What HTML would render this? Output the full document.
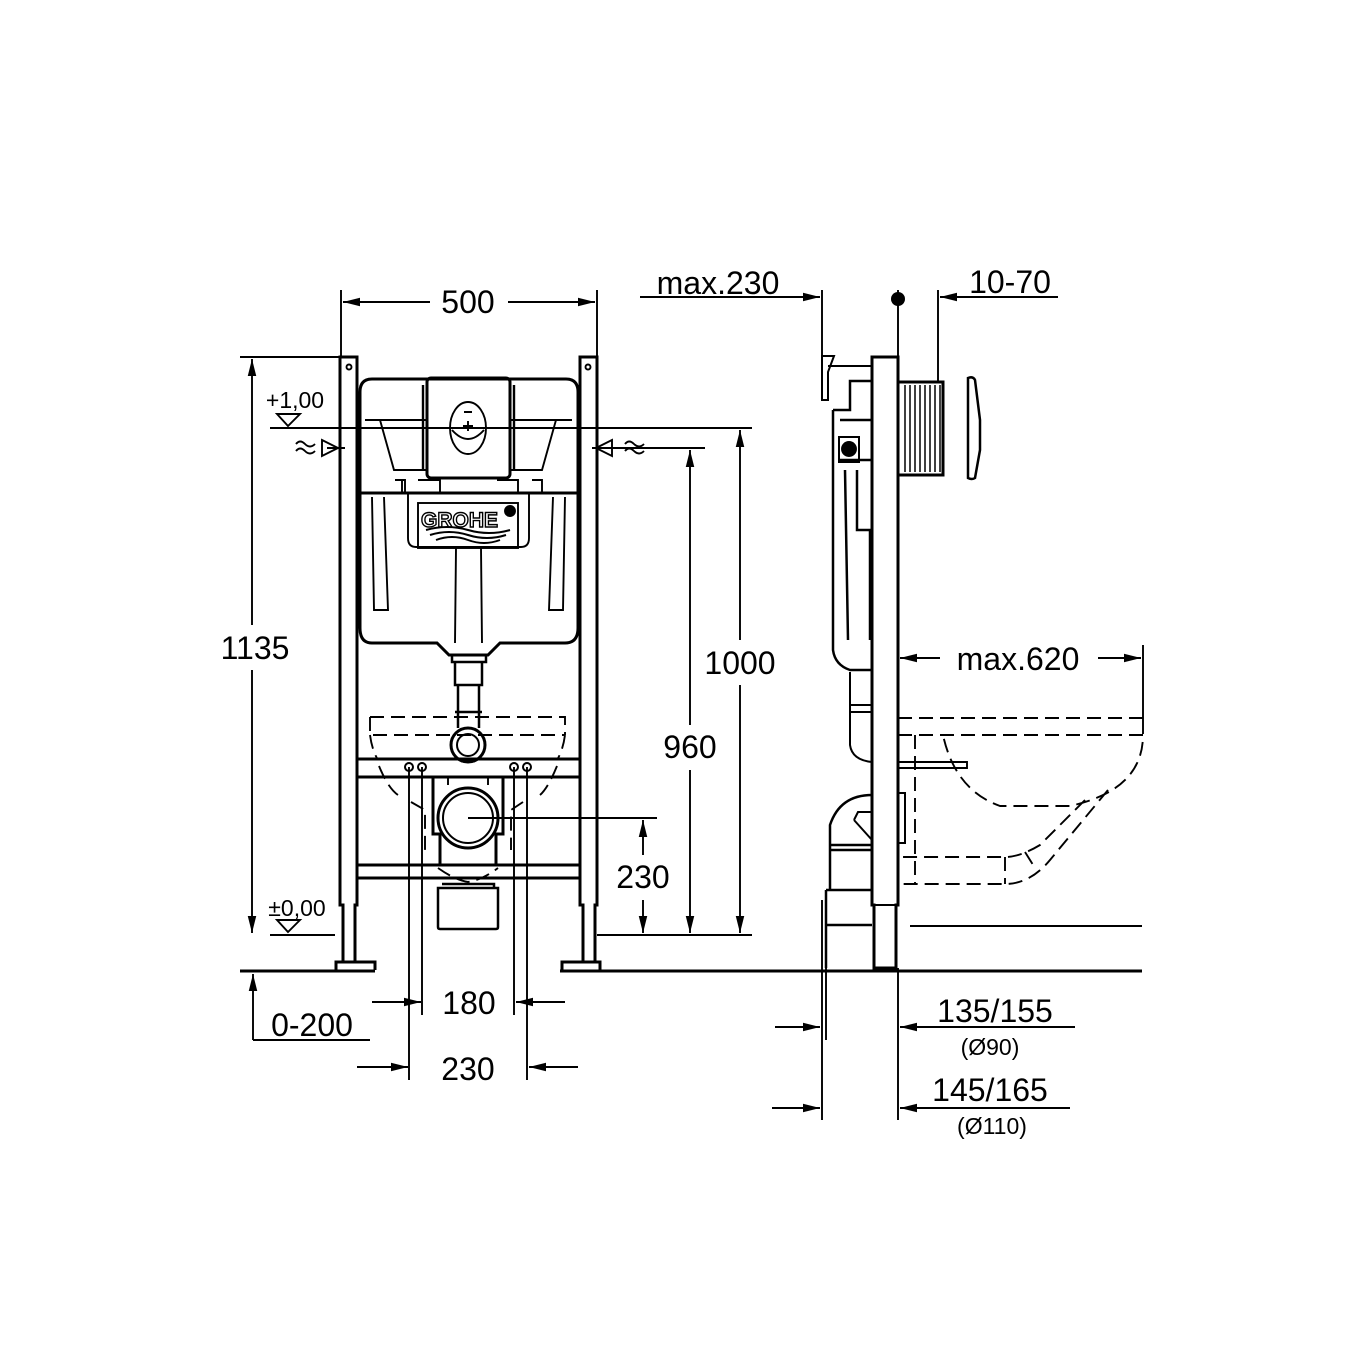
<!DOCTYPE html>
<html><head><meta charset="utf-8"><style>
html,body{margin:0;padding:0;background:#fff}
svg{display:block}
text{font-family:"Liberation Sans",sans-serif;fill:#000}
</style></head><body>
<svg width="1366" height="1366" viewBox="0 0 1366 1366" xmlns="http://www.w3.org/2000/svg">
<defs>
<marker id="a" viewBox="0 0 16 8" refX="16" refY="4" markerWidth="17" markerHeight="9" markerUnits="userSpaceOnUse" orient="auto"><path d="M0,0L16,4L0,8z" fill="#000"/></marker>
</defs>
<g fill="none" stroke="#000" stroke-width="1.9">
<!-- LEFT FRONT VIEW -->
<path d="M340,357H357V905H355V962H343V905H340Z" stroke-width="3"/>
<path d="M580,357H597V905H595V962H583V905H580Z" stroke-width="3"/>
<path d="M336,970V962H375V970M562,970V962H600V970" stroke-width="3"/>
<circle cx="349" cy="367" r="2.5"/><circle cx="588" cy="367" r="2.5"/>
<path d="M372,379H566Q578,379 578,392V628Q578,643 565,643H500L488,655H449L437,643H372Q360,643 360,628V392Q360,379 372,379Z" stroke-width="3"/>
<line x1="357" y1="493" x2="580" y2="493" stroke-width="3"/>
<path d="M380,420L394,470H427M556,420L542,470H510"/>
<path d="M365,420H427M510,420H572"/>
<rect x="427" y="378" width="83" height="100" rx="4" stroke-width="3"/>
<path d="M423,385V470M514,385V470" stroke-width="2.4"/>
<ellipse cx="468" cy="428" rx="18" ry="26"/>
<path d="M452,430Q468,448 484,430M463,426H473M468,421V431M464,412H472" />
<path d="M395,480H405V493M402,480V493M418,480H440V493M497,480H518V493M532,480H542V493"/>
<path d="M408,493V538Q408,547 416,547H521Q529,547 529,538V493"/>
<rect x="418" y="503" width="100" height="45"/>
<text x="421" y="527" font-size="21" font-weight="bold" style="fill:#fff;stroke:#000;stroke-width:1.4" letter-spacing="0">GROHE</text>
<circle cx="510" cy="511" r="5" fill="#000"/>
<path d="M426,530Q447,524 468,530T510,530M430,535Q449,529 468,535T506,535M436,540Q452,534 468,540T500,540" stroke-width="2"/>
<path d="M372,497L374,610H388L384,497M565,497L563,610H549L553,497M456,548L455,643M481,548L482,643"/>
<path d="M452,655V662H486V655M455,662V685H482V662M458,685V712H479V685M455,712H482" stroke-width="2.5"/>
<circle cx="468" cy="745" r="17" stroke-width="3"/><circle cx="468" cy="745" r="11" stroke-width="2"/>
<path d="M458,712V728M479,712V728" stroke-width="2.5"/>
<path d="M370,717H565V735M370,717V735H565M370,735Q372,750 378,760M565,735Q563,750 557,760M379,766Q388,788 398,795M557,766Q548,788 540,795M411,802L425,810V850M523,802L511,810V850M438,868Q455,880 468,882Q482,880 498,868" stroke-dasharray="14,7"/>
<path d="M357,759H580M357,777H580M357,865H580M357,878H580" stroke-width="3"/>
<circle cx="409" cy="767" r="4" stroke-width="2"/><circle cx="422" cy="767" r="4" stroke-width="2"/>
<circle cx="514" cy="767" r="4" stroke-width="2"/><circle cx="527" cy="767" r="4" stroke-width="2"/>
<path d="M433,777V834H440V865M503,777V834H496V865" stroke-width="3"/>
<circle cx="468" cy="818" r="30" stroke-width="3"/><circle cx="468" cy="818" r="25" stroke-width="2"/>
<path d="M448,785V777M488,785V777"/>
<path d="M440,888H498V927Q498,929 496,929H440Q438,929 438,927V888ZM442,884H494V888" stroke-width="2.5"/>
<path d="M409,767V1080M422,767V1015M514,767V1015M527,767V1080"/>
<path d="M270,428H752M270,935H335M597,935H752M597,448H705M468,818H657"/>
<path d="M327,448H345M592,448H612"/>
<path d="M322,440L338,448L322,456Z M612,440L596,448L612,456Z"/>
<path d="M296,444q4,-5 9,0t10,0M296,451q4,-5 9,0t10,0M625,444q4,-5 9,0t10,0M625,451q4,-5 9,0t10,0"/>
<path d="M277,414H300L288,426Z M277,920H300L288,932Z"/>
<path d="M341,290V357M597,290V357"/>
<path d="M430,302H343" marker-end="url(#a)"/><path d="M508,302H595" marker-end="url(#a)"/>
<path d="M240,357H340"/>
<path d="M252,625V359" marker-end="url(#a)"/><path d="M252,670V933" marker-end="url(#a)"/>
<path d="M740,640V430" marker-end="url(#a)"/><path d="M740,685V933" marker-end="url(#a)"/>
<path d="M690,725V450" marker-end="url(#a)"/><path d="M690,770V933" marker-end="url(#a)"/>
<path d="M643,855V820" marker-end="url(#a)"/><path d="M643,900V933" marker-end="url(#a)"/>
<path d="M253,1040V974" marker-end="url(#a)"/><path d="M253,1040H370"/>
<path d="M240,971H375M560,971H1142" stroke-width="3"/>
<path d="M372,1002H421" marker-end="url(#a)"/><path d="M565,1002H516" marker-end="url(#a)"/>
<path d="M357,1067H408" marker-end="url(#a)"/><path d="M578,1067H529" marker-end="url(#a)"/>

<!-- RIGHT SIDE VIEW -->
<path d="M872,357H898V905H896V968H874V905H872Z" stroke-width="3"/>
<path d="M874,905H896"/>
<path d="M833,410H850V381H872M833,410V650Q835,665 850,670H872M840,420H872M840,460H872M845,470L848,640M857,470V530H870V640" stroke-width="2.5"/>
<rect x="839" y="437" width="20" height="25" stroke-width="2"/>
<circle cx="849" cy="449" r="7" fill="#000"/>
<path d="M822,400V356H834L828,372V400Z M828,366H872" stroke-width="2"/>
<path d="M898,382H943V475H898" stroke-width="3"/>
<path d="M905,385V472M910,385V472M915,385V472M920,385V472M925,385V472M930,385V472M935,385V472M940,385V472" stroke-width="1.5"/>
<path d="M968,378Q973,376 975,380L980,420V450L975,478Q972,480 968,478Z" stroke-width="2.5"/>
<path d="M850,672V705H872M850,705V745Q852,760 872,762M850,712H872" stroke-width="2"/>
<path d="M872,795Q840,795 830,825V845H872M830,845V850H872M830,850V890M826,890H872M826,890V968M872,925H826" stroke-width="2.5"/>
<path d="M854,820L872,840M854,820L858,812H872M898,793H905V843H898" stroke-width="2"/>
<path d="M822,900V1120M826,968V1040M898,968V1120"/>
<path d="M898,718H1143M898,735H1143Q1143,790 1070,806H1000Q955,790 943,735M1143,720V735M1085,800L1040,845Q1020,857 1005,857H898M1108,790L1050,860Q1030,884 1005,884H898M915,735V884M1005,857V884M1025,852L1035,868" stroke-dasharray="14,7"/>
<path d="M898,762H967V768H898"/>
<path d="M910,926H1142"/>
<path d="M1143,645V720"/>
<path d="M940,658H900" marker-end="url(#a)"/><path d="M1098,658H1141" marker-end="url(#a)"/>
<path d="M822,290V355M898,290V357M938,290V382"/>
<path d="M640,297H820" marker-end="url(#a)"/>
<path d="M1058,297H940" marker-end="url(#a)"/>
<circle cx="898" cy="299" r="7" fill="#000" stroke="none"/>
<path d="M775,1027H820" marker-end="url(#a)"/><path d="M1075,1027H900" marker-end="url(#a)"/>
<path d="M772,1108H820" marker-end="url(#a)"/><path d="M1070,1108H900" marker-end="url(#a)"/>
</g>
<g font-size="32" text-anchor="middle">
<text x="468" y="313">500</text>
<text x="255" y="659">1135</text>
<text x="740" y="674">1000</text>
<text x="690" y="758">960</text>
<text x="643" y="888">230</text>
<text x="312" y="1036">0-200</text>
<text x="469" y="1014">180</text>
<text x="468" y="1080">230</text>
<text x="718" y="294">max.230</text>
<text x="1010" y="293">10-70</text>
<text x="1018" y="670">max.620</text>
<text x="995" y="1022">135/155</text>
<text x="990" y="1101">145/165</text>
</g>
<g font-size="23" text-anchor="middle">
<text x="295" y="408">+1,00</text>
<text x="297" y="916">±0,00</text>
<text x="990" y="1055">(Ø90)</text>
<text x="992" y="1134">(Ø110)</text>
</g>
</svg>
</body></html>
